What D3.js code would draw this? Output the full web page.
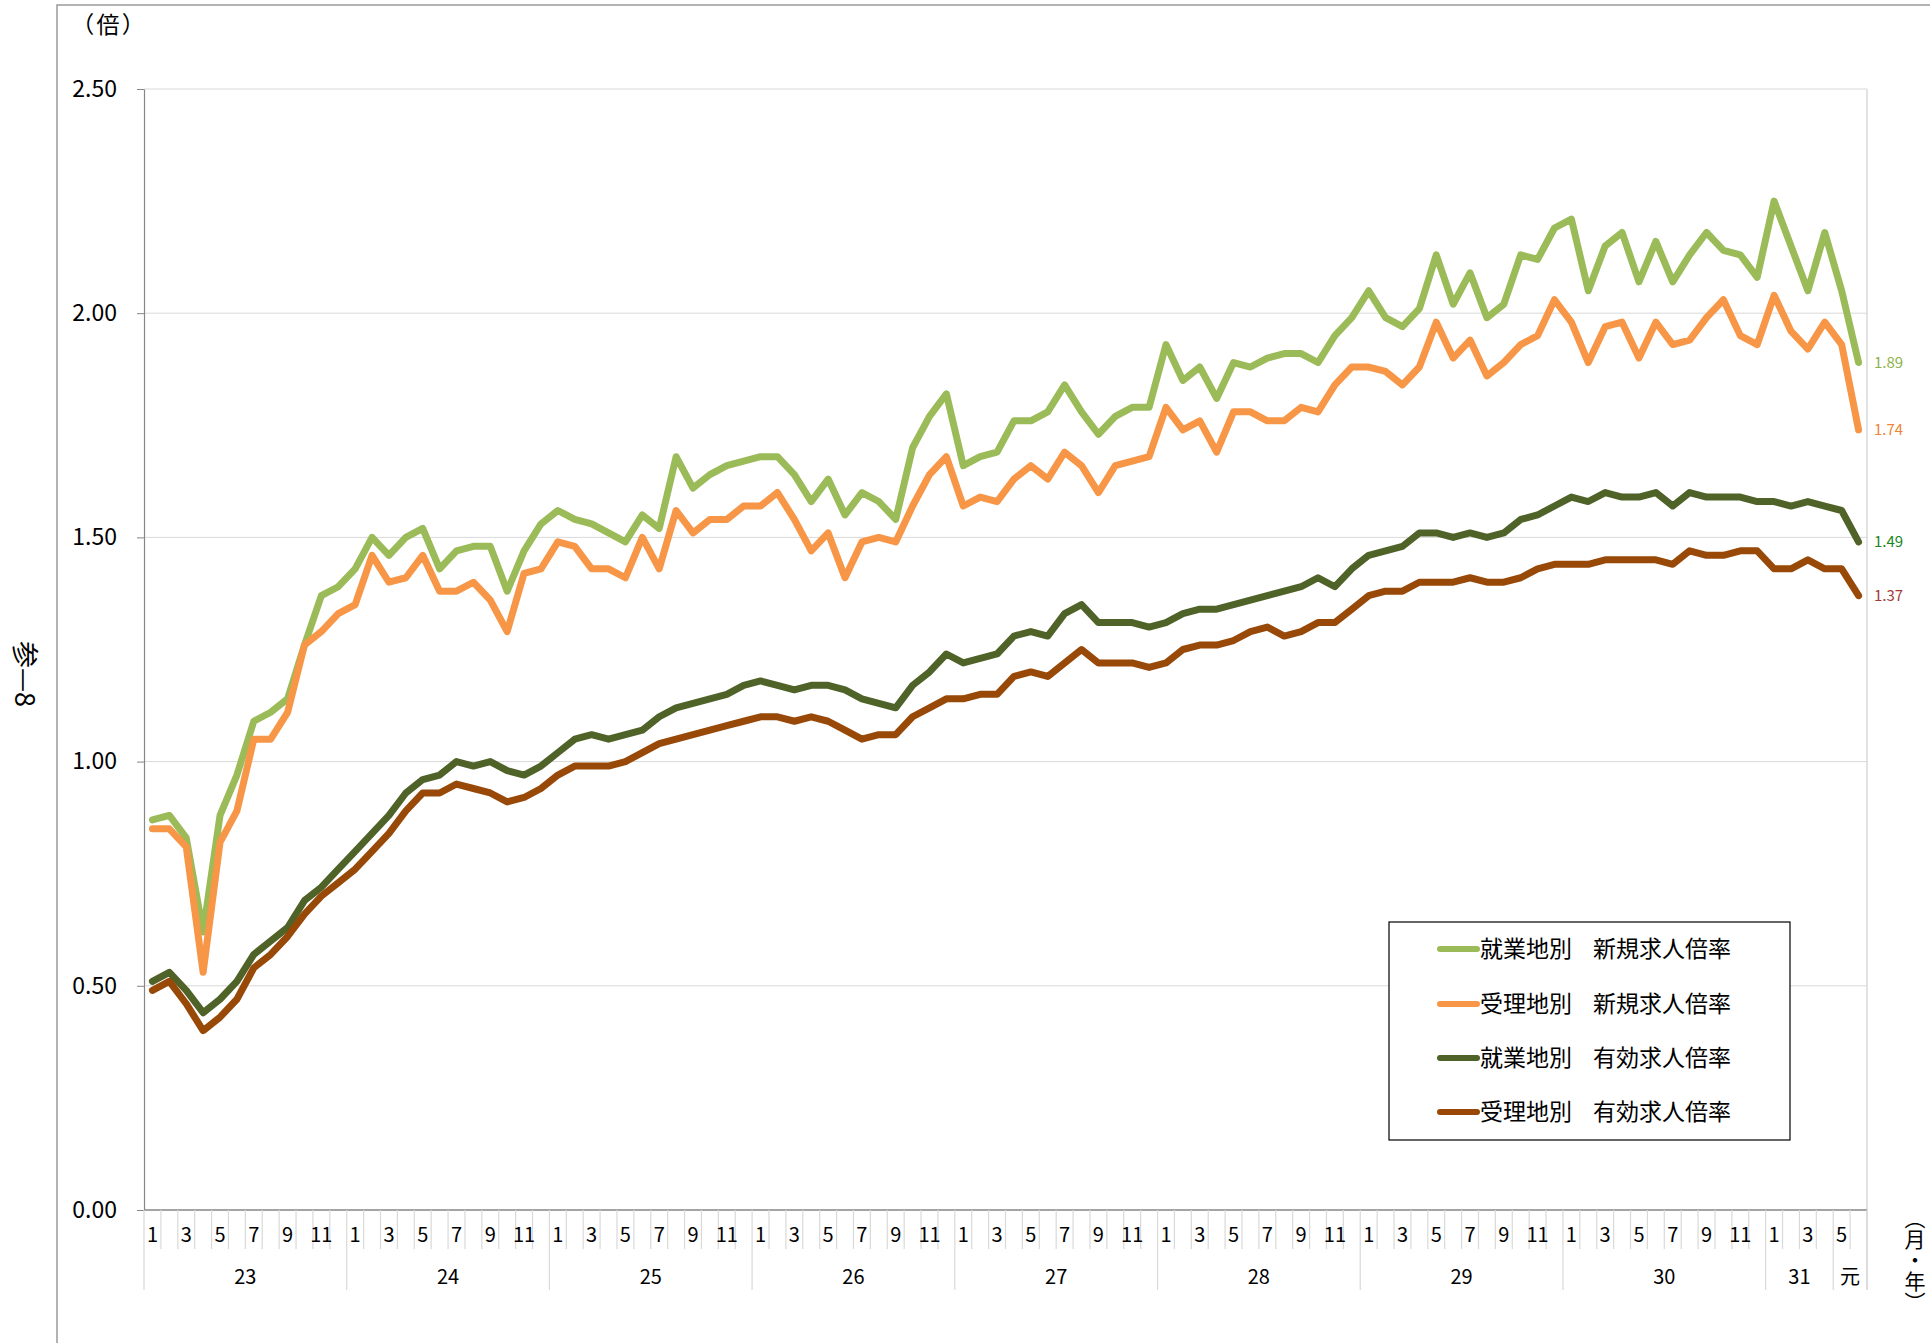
<!DOCTYPE html>
<html><head><meta charset="utf-8">
<script src="https://cdn.jsdelivr.net/npm/d3@7/dist/d3.min.js"></script>
<style>
body{margin:0;background:#fff}
svg{display:block;font-family:"Noto Sans CJK JP","Noto Sans",sans-serif}
</style>
</head><body>
<svg id="c" width="1930" height="1343"></svg>
<script>
// ---- data ----
const yearLabels = ["23","24","25","26","27","28","29","30","31","元"];
const yearFirstMonth = [1,1,1,1,1,1,1,1,1,5];
const yearMonthCount = [12,12,12,12,12,12,12,12,4,2];
const monthLabelsShown = [1,3,5,7,9,11];
const yTicks = [0,0.5,1.0,1.5,2.0,2.5];

const seriesNames = ["就業地別　新規求人倍率","受理地別　新規求人倍率","就業地別　有効求人倍率","受理地別　有効求人倍率"];
const seriesColors = ["#9BBB59","#F79646","#4F6228","#984807"];
const endLabelColors = ["#8DB24C","#EE8436","#1B861B","#A33B38"];

const shugyoNew = [0.87,0.88,0.83,0.62,0.88,0.97,1.09,1.11,1.14,1.26,1.37,1.39,
  1.43,1.50,1.46,1.50,1.52,1.43,1.47,1.48,1.48,1.38,1.47,1.53,
  1.56,1.54,1.53,1.51,1.49,1.55,1.52,1.68,1.61,1.64,1.66,1.67,
  1.68,1.68,1.64,1.58,1.63,1.55,1.60,1.58,1.54,1.70,1.77,1.82,
  1.66,1.68,1.69,1.76,1.76,1.78,1.84,1.78,1.73,1.77,1.79,1.79,
  1.93,1.85,1.88,1.81,1.89,1.88,1.90,1.91,1.91,1.89,1.95,1.99,
  2.05,1.99,1.97,2.01,2.13,2.02,2.09,1.99,2.02,2.13,2.12,2.19,
  2.21,2.05,2.15,2.18,2.07,2.16,2.07,2.13,2.18,2.14,2.13,2.08,
  2.25,2.15,2.05,2.18,2.05,1.89];
const juriNew = [0.85,0.85,0.81,0.53,0.82,0.89,1.05,1.05,1.11,1.26,1.29,1.33,
  1.35,1.46,1.40,1.41,1.46,1.38,1.38,1.40,1.36,1.29,1.42,1.43,
  1.49,1.48,1.43,1.43,1.41,1.50,1.43,1.56,1.51,1.54,1.54,1.57,
  1.57,1.60,1.54,1.47,1.51,1.41,1.49,1.50,1.49,1.57,1.64,1.68,
  1.57,1.59,1.58,1.63,1.66,1.63,1.69,1.66,1.60,1.66,1.67,1.68,
  1.79,1.74,1.76,1.69,1.78,1.78,1.76,1.76,1.79,1.78,1.84,1.88,
  1.88,1.87,1.84,1.88,1.98,1.90,1.94,1.86,1.89,1.93,1.95,2.03,
  1.98,1.89,1.97,1.98,1.90,1.98,1.93,1.94,1.99,2.03,1.95,1.93,
  2.04,1.96,1.92,1.98,1.93,1.74];
const shugyoYuko = [0.51,0.53,0.49,0.44,0.47,0.51,0.57,0.60,0.63,0.69,0.72,0.76,
  0.80,0.84,0.88,0.93,0.96,0.97,1.00,0.99,1.00,0.98,0.97,0.99,
  1.02,1.05,1.06,1.05,1.06,1.07,1.10,1.12,1.13,1.14,1.15,1.17,
  1.18,1.17,1.16,1.17,1.17,1.16,1.14,1.13,1.12,1.17,1.20,1.24,
  1.22,1.23,1.24,1.28,1.29,1.28,1.33,1.35,1.31,1.31,1.31,1.30,
  1.31,1.33,1.34,1.34,1.35,1.36,1.37,1.38,1.39,1.41,1.39,1.43,
  1.46,1.47,1.48,1.51,1.51,1.50,1.51,1.50,1.51,1.54,1.55,1.57,
  1.59,1.58,1.60,1.59,1.59,1.60,1.57,1.60,1.59,1.59,1.59,1.58,
  1.58,1.57,1.58,1.57,1.56,1.49];
const juriYuko = [0.49,0.51,0.46,0.40,0.43,0.47,0.54,0.57,0.61,0.66,0.70,0.73,
  0.76,0.80,0.84,0.89,0.93,0.93,0.95,0.94,0.93,0.91,0.92,0.94,
  0.97,0.99,0.99,0.99,1.00,1.02,1.04,1.05,1.06,1.07,1.08,1.09,
  1.10,1.10,1.09,1.10,1.09,1.07,1.05,1.06,1.06,1.10,1.12,1.14,
  1.14,1.15,1.15,1.19,1.20,1.19,1.22,1.25,1.22,1.22,1.22,1.21,
  1.22,1.25,1.26,1.26,1.27,1.29,1.30,1.28,1.29,1.31,1.31,1.34,
  1.37,1.38,1.38,1.40,1.40,1.40,1.41,1.40,1.40,1.41,1.43,1.44,
  1.44,1.44,1.45,1.45,1.45,1.45,1.44,1.47,1.46,1.46,1.47,1.47,
  1.43,1.43,1.45,1.43,1.43,1.37];
const allSeries = [shugyoNew, juriNew, shugyoYuko, juriYuko];

// ---- categories ----
const cats = [];
yearLabels.forEach((yl, yi) => {
  for (let k = 0; k < yearMonthCount[yi]; k++) cats.push({year: yl, yi, month: yearFirstMonth[yi] + k});
});

// ---- layout ----
const svg = d3.select("#c");
const L = 144, R = 1867, T = 89, B = 1210;
const x = d3.scaleBand().domain(d3.range(cats.length)).range([L, R]).padding(0);
const y = d3.scaleLinear().domain([0, 2.5]).range([B, T]);
const bw = x.bandwidth();
const cx = i => x(i) + bw / 2;

// outer frame (left + top)
svg.append("path").attr("d", `M57,1343 L57,5 L1930,5`).attr("fill","none")
  .attr("stroke","#9a9a9a").attr("stroke-width",1.5);

// gridlines
svg.append("g").selectAll("line").data(yTicks.filter(d => d > 0)).join("line")
  .attr("x1", L).attr("x2", R).attr("y1", d => y(d)).attr("y2", d => y(d))
  .attr("stroke", "#D9D9D9").attr("stroke-width", 1);
// right border of plot
svg.append("line").attr("x1", R).attr("x2", R).attr("y1", T).attr("y2", 1290)
  .attr("stroke", "#D9D9D9").attr("stroke-width", 1.5);

// y axis
const yAxis = d3.axisLeft(y).tickValues(yTicks).tickFormat(d3.format(".2f"))
  .tickSize(7).tickSizeOuter(0).tickPadding(20);
const gy = svg.append("g").attr("transform", `translate(${L},0)`).call(yAxis);
gy.select(".domain").attr("stroke", "#868686").attr("stroke-width", 1.2);
gy.selectAll(".tick line").attr("stroke", "#868686");
gy.selectAll(".tick text").attr("font-size", 23).attr("fill", "#000")
  .attr("font-family", '"Noto Sans CJK JP","Noto Sans",sans-serif');

// x axis line
svg.append("line").attr("x1", L).attr("x2", R).attr("y1", B).attr("y2", B)
  .attr("stroke", "#868686").attr("stroke-width", 1.5);

// month separators
const sepIdx = d3.range(cats.length + 1);
const isYearStart = i => i === 0 || i === cats.length || cats[i].yi !== cats[i - 1].yi;
svg.append("g").selectAll("line").data(sepIdx).join("line")
  .attr("x1", i => L + i * bw).attr("x2", i => L + i * bw)
  .attr("y1", B).attr("y2", i => isYearStart(i) ? 1290 : 1249)
  .attr("stroke", "#D9D9D9").attr("stroke-width", 1.2);

// month labels
svg.append("g").selectAll("text").data(cats.map((c, i) => ({c, i})).filter(d => monthLabelsShown.includes(d.c.month)))
  .join("text").attr("x", d => cx(d.i)).attr("y", 1235).attr("dy", "0.35em")
  .attr("text-anchor", "middle").attr("font-size", 20).attr("fill", "#000")
  .text(d => d.c.month);

// year labels
svg.append("g").selectAll("text").data(yearLabels.map((yl, yi) => {
    const idx = cats.map((c, i) => c.yi === yi ? i : -1).filter(i => i >= 0);
    return {yl, mid: (x(idx[0]) + x(idx[idx.length - 1]) + bw) / 2};
  })).join("text").attr("x", d => d.mid).attr("y", 1277).attr("dy", "0.35em")
  .attr("text-anchor", "middle").attr("font-size", 20).attr("fill", "#000")
  .text(d => d.yl);

// lines
const line = d3.line().x((d, i) => cx(i)).y(d => y(d));
svg.append("g").selectAll("path").data(allSeries).join("path")
  .attr("d", d => line(d)).attr("fill", "none")
  .attr("stroke", (d, i) => seriesColors[i]).attr("stroke-width", 7)
  .attr("stroke-linejoin", "round").attr("stroke-linecap", "round");

// end labels
svg.append("g").selectAll("text").data(allSeries).join("text")
  .attr("x", 1874).attr("y", d => y(d[d.length - 1])).attr("dy", "0.35em")
  .attr("font-size", 15).attr("fill", (d, i) => endLabelColors[i])
  .text(d => d3.format(".2f")(d[d.length - 1]));

// legend
const lg = svg.append("g");
lg.append("rect").attr("x", 1389).attr("y", 922).attr("width", 401).attr("height", 218)
  .attr("fill", "#fff").attr("stroke", "#000").attr("stroke-width", 1.2);
const rowsY = [949, 1004, 1058, 1112];
seriesNames.forEach((name, i) => {
  lg.append("line").attr("x1", 1440).attr("x2", 1477).attr("y1", rowsY[i]).attr("y2", rowsY[i])
    .attr("stroke", seriesColors[i]).attr("stroke-width", 6).attr("stroke-linecap", "round");
  const parts = name.split("　");
  lg.append("text").attr("x", 1480).attr("y", rowsY[i]).attr("dy", "0.36em")
    .attr("font-size", 23).attr("fill", "#000").text(parts[0]);
  lg.append("text").attr("x", 1593).attr("y", rowsY[i]).attr("dy", "0.36em")
    .attr("font-size", 23).attr("fill", "#000").text(parts[1]);
});

// unit label
svg.append("text").attr("x", 82).attr("y", 25).attr("dy", "0.36em")
  .attr("font-size", 23).attr("letter-spacing", 3).style("font-feature-settings", '"palt"')
  .attr("fill", "#000").text("（倍）");

// side label (rotated)
svg.append("text").attr("transform", "translate(25,674) rotate(90)")
  .attr("text-anchor", "middle").attr("dy", "0.36em").attr("font-size", 27).attr("fill", "#000")
  .text("参—8");

// x unit label, vertical writing
svg.append("text").attr("x", 1915).attr("y", 1208)
  .style("writing-mode", "vertical-rl")
  .attr("font-size", 21).attr("fill", "#000").text("（月・年）");
</script>
</body></html>
